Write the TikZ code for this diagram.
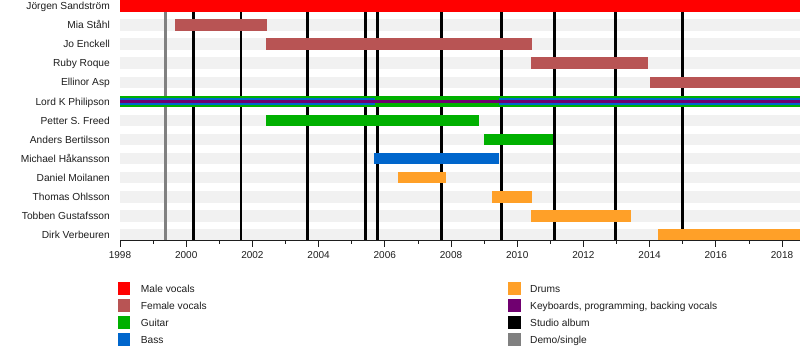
\documentclass[tikz,border=0pt]{standalone}
\usepackage{fontspec}
\setmainfont{Liberation Sans}
\definecolor{male}{RGB}{255,0,0}
\definecolor{female}{RGB}{184,84,84}
\definecolor{guitar}{RGB}{0,176,0}
\definecolor{bass}{RGB}{0,102,204}
\definecolor{drums}{RGB}{255,160,40}
\definecolor{keys}{RGB}{112,0,112}
\definecolor{demo}{RGB}{128,128,128}
\definecolor{band}{RGB}{241,241,241}
\definecolor{txt}{RGB}{30,30,30}
\newcommand\rowy[1]{6+19.08*#1}
\newcommand\tlbar[5][11.5]{\fill[#5] (#3,{\rowy{#2}-#1/2}) rectangle (#4,{\rowy{#2}+#1/2});}
\begin{document}
\begin{tikzpicture}[x=1pt,y=-1pt,
  lab/.style={anchor=east,inner sep=0pt,text height=7.3pt,text depth=0pt,font=\fontsize{10.2}{12}\selectfont,text=txt},
  yrlab/.style={anchor=center,inner sep=0pt,text height=7.3pt,text depth=0pt,font=\fontsize{10}{12}\selectfont,text=txt},
  legtxt/.style={anchor=west,inner sep=0pt,text height=7.3pt,text depth=0pt,font=\fontsize{10.2}{12}\selectfont,text=txt},
  legsq/.style={draw=none,minimum size=12.5pt,inner sep=0pt},
  album/.style={line width=2.8pt,black},
  demoline/.style={line width=2.8pt,demo}]
\useasboundingbox (0,0) rectangle (800,360);
\fill[white] (0,0) rectangle (800,360);
% row bands
\foreach \i in {0,...,12} {\fill[band] (120,{\rowy{\i}-5.75}) rectangle (800,{\rowy{\i}+5.75});}
% release lines
\draw[demoline] (165.7,0) -- (165.7,240);
\foreach \x in {193.3,241,307.3,365.7,377.3,441.7,501.7,554.3,615.3,682.8}
  \draw[album] (\x,0) -- (\x,240);
% bars
\tlbar{0}{120}{800}{male}
\tlbar{1}{175}{266.7}{female}
\tlbar{2}{266.3}{531.5}{female}
\tlbar{3}{531}{647.7}{female}
\tlbar{4}{649.5}{800}{female}
\tlbar{5}{120}{800}{guitar}
\tlbar[7.5]{5}{120}{375}{bass}
\tlbar[7.5]{5}{498.5}{800}{bass}
\tlbar[3.8]{5}{120}{800}{keys}
\tlbar{6}{266}{479}{guitar}
\tlbar{7}{484}{553.3}{guitar}
\tlbar{8}{374}{498.7}{bass}
\tlbar{9}{398.3}{446}{drums}
\tlbar{10}{492.3}{532}{drums}
\tlbar{11}{531}{630.7}{drums}
\tlbar{12}{658.3}{800}{drums}
% axis
\draw[line width=0.9pt,txt] (120,240.5) -- (800,240.5);
\foreach \k in {0,...,20} {
  \pgfmathsetmacro\tx{120+33.1*\k}
  \ifodd\k
    \draw[line width=0.8pt,txt] (\tx,240.5) -- (\tx,243.5);
  \else
    \draw[line width=0.8pt,txt] (\tx,240.5) -- (\tx,246.5);
  \fi
}
\foreach \k in {0,2,...,20} {
  \pgfmathtruncatemacro\yy{1998+\k}
  \node[yrlab] (y\yy) at ({120+33.1*\k},255) {\yy};
}
% names
\node[lab] (n0) at (110,{\rowy{0}}) {Jörgen Sandström};
\node[lab] (n1) at (110,{\rowy{1}}) {Mia Ståhl};
\node[lab] (n2) at (110,{\rowy{2}}) {Jo Enckell};
\node[lab] (n3) at (110,{\rowy{3}}) {Ruby Roque};
\node[lab] (n4) at (110,{\rowy{4}}) {Ellinor Asp};
\node[lab] (n5) at (110,{\rowy{5}}) {Lord K Philipson};
\node[lab] (n6) at (110,{\rowy{6}}) {Petter S. Freed};
\node[lab] (n7) at (110,{\rowy{7}}) {Anders Bertilsson};
\node[lab] (n8) at (110,{\rowy{8}}) {Michael Håkansson};
\node[lab] (n9) at (110,{\rowy{9}}) {Daniel Moilanen};
\node[lab] (n10) at (110,{\rowy{10}}) {Thomas Ohlsson};
\node[lab] (n11) at (110,{\rowy{11}}) {Tobben Gustafsson};
\node[lab] (n12) at (110,{\rowy{12}}) {Dirk Verbeuren};
% legend
\node[legsq,fill=male] (s1) at (124.2,288.7) {};
\node[legsq,fill=female] (s2) at (124.2,305.6) {};
\node[legsq,fill=guitar] (s3) at (124.2,322.5) {};
\node[legsq,fill=bass] (s4) at (124.2,339.5) {};
\node[legtxt] (t1) at (140.7,288.7) {Male vocals};
\node[legtxt] (t2) at (140.7,305.6) {Female vocals};
\node[legtxt] (t3) at (140.7,322.5) {Guitar};
\node[legtxt] (t4) at (140.7,339.5) {Bass};
\node[legsq,fill=drums] (s5) at (514.4,288.7) {};
\node[legsq,fill=keys] (s6) at (514.4,305.6) {};
\node[legsq,fill=black] (s7) at (514.4,322.5) {};
\node[legsq,fill=demo] (s8) at (514.4,339.5) {};
\node[legtxt] (t5) at (530,288.7) {Drums};
\node[legtxt] (t6) at (530,305.6) {Keyboards, programming, backing vocals};
\node[legtxt] (t7) at (530,322.5) {Studio album};
\node[legtxt] (t8) at (530,339.5) {Demo/single};
\end{tikzpicture}
\end{document}
